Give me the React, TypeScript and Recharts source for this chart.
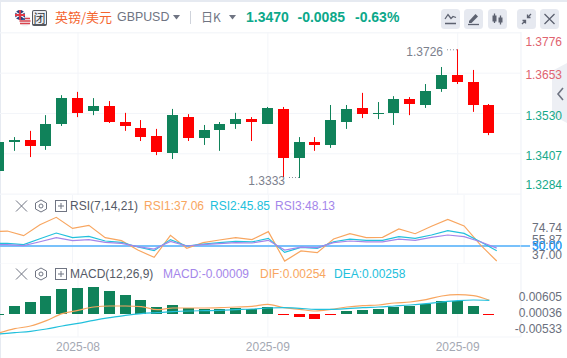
import { Bar, CartesianGrid, ComposedChart, Line, ReferenceLine, XAxis, YAxis } from "recharts";

// daily GBPUSD candles
const opens = [1.3355, 1.3444, 1.3449, 1.3431, 1.3498, 1.3577, 1.3538, 1.3553, 1.3504, 1.3486, 1.3461, 1.341, 1.3519, 1.3455, 1.348, 1.3498, 1.3513, 1.3498, 1.3544, 1.3394, 1.3443, 1.3434, 1.3504, 1.3547, 1.3528, 1.3532, 1.3574, 1.3556, 1.3605, 1.3647, 1.3626, 1.3556];
const closes = [1.3443, 1.3449, 1.3431, 1.3498, 1.3577, 1.3532, 1.3553, 1.3504, 1.3492, 1.3458, 1.3413, 1.3525, 1.3455, 1.348, 1.3498, 1.3513, 1.3504, 1.3547, 1.3394, 1.3443, 1.3434, 1.351, 1.3544, 1.3528, 1.3532, 1.3574, 1.3559, 1.3599, 1.3647, 1.3626, 1.3556, 1.347];
const highs = [1.3443, 1.3458, 1.3477, 1.3525, 1.3586, 1.3596, 1.3577, 1.3568, 1.3532, 1.351, 1.3483, 1.3544, 1.3528, 1.3495, 1.3504, 1.3532, 1.3519, 1.355, 1.355, 1.3458, 1.3458, 1.3556, 1.3556, 1.3593, 1.3565, 1.3583, 1.358, 1.362, 1.3672, 1.3726, 1.3663, 1.3559];
const lows = [1.3355, 1.3416, 1.3397, 1.3419, 1.3492, 1.3519, 1.3525, 1.3501, 1.3477, 1.3446, 1.3403, 1.3391, 1.3446, 1.3434, 1.3416, 1.3483, 1.3446, 1.3498, 1.3336, 1.3333, 1.3416, 1.3425, 1.3483, 1.3516, 1.3513, 1.3495, 1.3525, 1.3547, 1.3596, 1.362, 1.3535, 1.3464];

const rsi1 = [62.4, 62.9, 58.9, 68.4, 74.74, 65.2, 67.8, 57.2, 54.6, 46.5, 40.2, 59.2, 48.0, 52.9, 55.2, 57.2, 55.5, 62.4, 37.0, 45.7, 44.2, 56.0, 60.6, 57.2, 57.5, 64.7, 60.6, 67.0, 73.0, 67.3, 50.9, 37.06];
const rsi2 = [52.3, 52.3, 51.2, 56.3, 61.2, 57.2, 58.3, 54.3, 53.2, 49.1, 46.0, 55.5, 50.0, 51.7, 52.9, 54.0, 53.5, 56.6, 44.5, 48.8, 48.0, 53.7, 56.0, 54.9, 54.9, 58.1, 56.6, 59.5, 63.2, 60.9, 53.7, 45.85];
const rsi3 = [51.2, 51.2, 50.3, 53.7, 57.2, 54.6, 55.5, 53.2, 52.3, 49.4, 47.4, 54.0, 50.0, 51.2, 52.0, 52.9, 52.6, 54.9, 46.5, 49.1, 48.6, 52.9, 54.3, 53.5, 53.5, 56.0, 54.9, 57.5, 59.5, 58.1, 53.7, 48.13];

const macdBars = [0.00009, 0.00281, 0.00421, 0.00632, 0.00877, 0.00912, 0.00947, 0.00807, 0.00667, 0.00491, 0.00246, 0.00316, 0.00211, 0.00175, 0.00175, 0.00211, 0.00175, 0.00246, -0.00009, -0.00105, -0.00175, -0.00009, 0.00105, 0.0014, 0.00175, 0.00246, 0.00281, 0.00339, 0.00456, 0.00445, 0.00281, -0.00009];
const dif = [-0.00667, -0.00515, -0.00421, -0.00234, 0.00012, 0.00129, 0.00246, 0.00281, 0.00281, 0.00257, 0.00152, 0.00211, 0.00211, 0.00211, 0.00222, 0.00246, 0.00269, 0.00339, 0.00222, 0.00164, 0.00105, 0.00164, 0.00246, 0.00293, 0.00316, 0.00386, 0.00421, 0.00503, 0.00632, 0.00679, 0.00644, 0.0048];
const dea = [-0.00702, -0.00655, -0.00608, -0.00527, -0.00421, -0.00328, -0.00222, -0.00129, -0.00047, 0.00012, 0.00047, 0.00082, 0.00105, 0.00117, 0.00129, 0.00152, 0.00175, 0.00211, 0.00222, 0.00199, 0.00164, 0.00164, 0.00187, 0.00222, 0.00246, 0.00281, 0.00316, 0.00363, 0.00421, 0.00468, 0.00491, 0.0048];

const monthTicks = [5, 17, 29];
const monthLabels = ["2025-08", "2025-09", "2025-09"];
const priceTicks = [1.3776, 1.3653, 1.353, 1.3407, 1.3284];
const priceShifts = [9, 2, 2.5, 2.5, -9.5];
const rsiTicks = [74.74, 55.87, 37, 50];
const rsiShifts = [11, 0.5, -6, 0];
const macdTicks = [0.00605, 0.00036, -0.00533];

const GREEN = "#10825a";
const RED = "#ff0000";
const GRID = "#f3f5f9";
const ORANGE = "#f8a660";
const CYAN = "#22c0dc";
const PURPLE = "#a486ea";
const BLUE = "#78c1fb";
const AXIS_TEXT = "#6a6f7d";
const FONT = "'Liberation Sans', Arial, sans-serif";
const CJK = "'Noto Sans CJK SC', sans-serif";

// one extra empty slot on the right
const rows = [...opens.map((_, i) => i), 32].map((i) => ({
  i,
  open: opens[i],
  close: closes[i],
  high: highs[i],
  low: lows[i],
  range: opens[i] === undefined ? undefined : [lows[i], highs[i]],
  rsi1: rsi1[i],
  rsi2: rsi2[i],
  rsi3: rsi3[i],
  macd: macdBars[i],
  dif: dif[i],
  dea: dea[i],
}));

const CHART_LEFT = -9.04;
const CHART_WIDTH = 576.04;
const AXIS_WIDTH = 46;
const BAND_PAD = 7.98;

const Candle = (props: any) => {
  const { x, y, width, height, payload } = props;
  if (!payload || payload.high === undefined) return null;
  const { open, close, high, low } = payload;
  const unit = Math.abs(height) / (high - low);
  const top = y + (high - Math.max(open, close)) * unit;
  const bottom = y + (high - Math.min(open, close)) * unit;
  const cx = x + width / 2;
  const color = close >= open ? GREEN : RED;
  const wickX = Math.floor(cx);
  const bodyX = wickX - 5;
  const isMax = high === Math.max(...highs);
  const isMin = low === Math.min(...lows);
  return (
    <g>
      <rect x={wickX} y={y} width={1} height={Math.abs(height)} fill={color} />
      <rect x={bodyX} y={Math.round(top)} width={11} height={Math.max(1, Math.round(bottom) - Math.round(top))} fill={color} />
      {isMax && (
        <g>
          <line x1={wickX - 10} x2={wickX} y1={y + 0.5} y2={y + 0.5} stroke="#8a8f9c" strokeDasharray="1 2" />
          <text x={wickX - 14} y={y + 7} textAnchor="end" fontSize={12} fontFamily={FONT} fill="#7b808d">{high.toFixed(4)}</text>
        </g>
      )}
      {isMin && (
        <g>
          <line x1={wickX - 10} x2={wickX} y1={y + height - 0.5} y2={y + height - 0.5} stroke="#8a8f9c" strokeDasharray="1 2" />
          <text x={wickX - 14} y={y + height + 7} textAnchor="end" fontSize={12} fontFamily={FONT} fill="#7b808d">{low.toFixed(4)}</text>
        </g>
      )}
    </g>
  );
};

const MacdBar = (props: any) => {
  const { x, y, width, height, payload } = props;
  if (!payload || payload.macd === undefined) return null;
  const left = Math.floor(x + width / 2) - 5;
  const top = Math.round(Math.min(y, y + height));
  return <rect x={left} y={top} width={11} height={Math.max(1, Math.round(Math.abs(height)))} fill={payload.macd >= 0 ? GREEN : RED} />;
};

const PriceTick = ({ x, y, payload, index }: any) => (
  <text x={x + 41} y={y + priceShifts[index] + 4} textAnchor="end" fontSize={12} fontFamily={FONT} fill={index < 2 ? "#e0636f" : "#16a98a"}>
    {payload.value.toFixed(4)}
  </text>
);

const RsiTick = ({ x, y, payload, index }: any) => {
  const isMid = payload.value === 50;
  return (
    <g>
      {isMid && <line x1={x} x2={x + 9} y1={y} y2={y} stroke={BLUE} strokeWidth={2} />}
      {isMid && (
        <text x={x + 41} y={y + 4} textAnchor="end" fontSize={12} fontFamily={FONT} fill="#2f9cf4">30.00</text>
      )}
      <text x={x + 41} y={y + rsiShifts[index] + 4} textAnchor="end" fontSize={12} fontFamily={FONT} fill={isMid ? "#2f9cf4" : AXIS_TEXT}>
        {payload.value.toFixed(2)}
      </text>
    </g>
  );
};

const MacdTick = ({ x, y, payload }: any) => (
  <text x={x + 41} y={y + 4} textAnchor="end" fontSize={12} fontFamily={FONT} fill={AXIS_TEXT}>
    {payload.value.toFixed(5)}
  </text>
);

const MonthTick = ({ x, y, index }: any) => (
  <text x={x} y={y + 12} textAnchor="middle" fontSize={12} fontFamily={FONT} fill="#a4a8b3">
    {monthLabels[index]}
  </text>
);

const pane = (top: number): React.CSSProperties => ({ position: "absolute", left: CHART_LEFT, top });

const text = (left: number, top: number, color: string, size = 12): React.CSSProperties => ({
  position: "absolute",
  left,
  top,
  color,
  fontSize: size,
  lineHeight: "16px",
  fontFamily: FONT,
  whiteSpace: "nowrap",
});

const PaneIcons = ({ top }: { top: number }) => (
  <svg style={{ position: "absolute", left: 14, top, width: 56, height: 14 }} viewBox="0 0 56 14" fill="none" stroke="#6f7482">
    <path d="M2 1.5 L13 12.5 M13 1.5 L2 12.5" />
    <path d="M27 1 L32.5 4 V10 L27 13 L21.5 10 V4 Z" />
    <circle cx="27" cy="7" r="2" />
    <rect x="41.5" y="1.5" width="11" height="11" />
    <path d="M44 7 H50 M47 4 V10" />
  </svg>
);

const HeadButton = ({ left, children }: { left: number; children: React.ReactNode }) => (
  <svg style={{ position: "absolute", left, top: 9, width: 19, height: 20 }} viewBox="0 0 19 20">
    <rect width="19" height="20" rx="3.5" fill="#e6e9f0" />
    {children}
  </svg>
);

const glyph = { fill: "none", stroke: "#5d6270", strokeWidth: 1.3 };

export default function App() {
  return (
    <div style={{ position: "absolute", left: 0, top: 0, width: 567, height: 358, overflow: "hidden", background: "#fff" }}>
      <div style={{ position: "absolute", left: 0, top: 0, width: 567, height: 2, background: "#e6eaf1" }} />
      <div style={{ position: "absolute", left: 0, top: 0, width: 1, height: 358, background: "#e6eaf1" }} />

      <svg style={{ position: "absolute", left: 14, top: 10, width: 17, height: 17 }} viewBox="0 0 17 17">
        <circle cx="11" cy="11" r="5.5" fill="#f3f3f6" />
        <path d="M6 8.5 H16 M5.5 11 H16.5 M6 13.5 H16" stroke="#d9434e" strokeWidth="1.3" />
        <rect x="6" y="6" width="5" height="4" fill="#3c5a9a" />
        <circle cx="6" cy="5" r="5" fill="#2d3f7c" />
        <path d="M1.5 2 L10.5 8 M10.5 2 L1.5 8" stroke="#fff" strokeWidth="1.1" />
        <path d="M6 0 V10 M1 5 H11" stroke="#e03a45" strokeWidth="1.8" />
      </svg>
      <div style={{ position: "absolute", left: 32, top: 10, width: 15, height: 16, boxSizing: "border-box", border: "1px solid #55585f", borderBottomWidth: 2, borderRadius: 2, background: "#eceef2", color: "#33363d", fontSize: 12, lineHeight: "13px", textAlign: "center", fontFamily: CJK }}>闭</div>
      <div style={{ ...text(55, 9, "#f4652f", 13), fontFamily: CJK }}>英镑/美元</div>
      <div style={text(117, 9, "#6f7482", 12.4)}>GBPUSD</div>
      <svg style={{ position: "absolute", left: 173, top: 15, width: 8, height: 5 }}><path d="M0 0 H7 L3.5 4.5 Z" fill="#6f7482" /></svg>
      <div style={{ position: "absolute", left: 190, top: 11, width: 1, height: 13, background: "#cfd3db" }} />
      <div style={{ ...text(201, 9, "#6f7482", 12), fontFamily: CJK }}>日K</div>
      <svg style={{ position: "absolute", left: 229, top: 15, width: 8, height: 5 }}><path d="M0 0 H7 L3.5 4.5 Z" fill="#6f7482" /></svg>
      <div style={{ ...text(246, 9, "#0ca88a", 14), fontWeight: 700 }}>1.3470</div>
      <div style={{ ...text(297.5, 9, "#0ca88a", 14), fontWeight: 700 }}>-0.0085</div>
      <div style={{ ...text(355, 9, "#0ca88a", 14), fontWeight: 700 }}>-0.63%</div>

      <HeadButton left={441}>
        <path d="M4 10 L7 5.5 L10 9.5 L12 7.5 L15 8.5 M4 14.5 H15" {...glyph} />
      </HeadButton>
      <HeadButton left={464}>
        <path d="M5 12 L11.5 5 L14 7.5 L7.5 14 H5 Z" fill="#5d6270" />
        <path d="M4 15.5 H15" {...glyph} />
      </HeadButton>
      <HeadButton left={488}>
        <path d="M6.5 4.5 V14 M12.5 6.5 V15.5" {...glyph} />
        <rect x="4.5" y="6.5" width="4" height="6" fill="#5d6270" />
        <rect x="10.5" y="8.5" width="4" height="5" fill="#5d6270" />
      </HeadButton>
      <HeadButton left={517}>
        <path d="M14 5 L10.5 8.5 M10.5 5.5 V8.5 H13.5 M5 15 L8.5 11.5 M8.5 14.5 V11.5 H5.5" {...glyph} />
      </HeadButton>
      <HeadButton left={540}>
        <path d="M4.5 5 L14.5 15 M14.5 5 L4.5 15" {...glyph} />
      </HeadButton>

      <svg style={{ position: "absolute", left: 552, top: 63, width: 15, height: 60 }} viewBox="0 0 15 60">
        <path d="M15 0 L0 8 V52 L15 60 Z" fill="#edeff4" />
        <path d="M11 25 L6 31 L11 37" fill="none" stroke="#6f7482" strokeWidth="1.6" />
      </svg>

      <div style={pane(32)}>
        <ComposedChart width={CHART_WIDTH} height={163} data={rows} margin={{ top: 0, right: 0, bottom: 0, left: 0 }}>
          <CartesianGrid stroke={GRID} />
          <XAxis dataKey="i" type="category" hide ticks={monthTicks} padding={{ left: 0, right: BAND_PAD }} />
          <YAxis orientation="right" width={AXIS_WIDTH} domain={[1.32812, 1.37788]} ticks={priceTicks} interval={0} allowDataOverflow stroke={GRID} tickLine={false} tickSize={0} tickMargin={0} tick={PriceTick} />
          <Bar dataKey="range" barSize={11} shape={Candle} isAnimationActive={false} />
        </ComposedChart>
      </div>

      <div style={pane(195)}>
        <ComposedChart width={CHART_WIDTH} height={68} data={rows} margin={{ top: 0, right: 0, bottom: 0, left: 0 }}>
          <CartesianGrid stroke={GRID} horizontal={false} />
          <XAxis dataKey="i" type="category" hide ticks={monthTicks} padding={{ left: 0, right: BAND_PAD }} />
          <YAxis orientation="right" width={AXIS_WIDTH} domain={[35.33, 94]} ticks={rsiTicks} interval={0} allowDataOverflow stroke={GRID} tickLine={false} tickSize={0} tickMargin={0} tick={RsiTick} />
          <ReferenceLine y={50} stroke={BLUE} strokeWidth={2} />
          <Line dataKey="rsi1" stroke={ORANGE} strokeWidth={1.2} dot={false} isAnimationActive={false} />
          <Line dataKey="rsi2" stroke={CYAN} strokeWidth={1.2} dot={false} isAnimationActive={false} />
          <Line dataKey="rsi3" stroke={PURPLE} strokeWidth={1.2} dot={false} isAnimationActive={false} />
        </ComposedChart>
      </div>

      <div style={pane(263)}>
        <ComposedChart width={CHART_WIDTH} height={95} data={rows} margin={{ top: 0, right: 0, bottom: 0, left: 0 }}>
          <CartesianGrid stroke={GRID} horizontal={false} />
          <XAxis dataKey="i" type="category" height={21} ticks={monthTicks} interval={0} padding={{ left: 0, right: BAND_PAD }} tickLine={false} tickSize={0} stroke={GRID} tick={MonthTick} />
          <YAxis orientation="right" width={AXIS_WIDTH} domain={[-0.00807, 0.01789]} ticks={macdTicks} interval={0} allowDataOverflow stroke={GRID} tickLine={false} tickSize={0} tickMargin={0} tick={MacdTick} />
          <ReferenceLine y={0.01789} stroke={GRID} />
          <Bar dataKey="macd" barSize={11} shape={MacdBar} isAnimationActive={false} />
          <Line dataKey="dif" type="monotone" stroke={ORANGE} strokeWidth={1.2} dot={false} isAnimationActive={false} />
          <Line dataKey="dea" type="monotone" stroke={CYAN} strokeWidth={1.2} dot={false} isAnimationActive={false} />
        </ComposedChart>
      </div>

      <PaneIcons top={199} />
      <div style={text(70, 198, "#555a66")}>RSI(7,14,21)</div>
      <div style={text(144, 198, ORANGE)}>RSI1:37.06</div>
      <div style={text(210, 198, CYAN)}>RSI2:45.85</div>
      <div style={text(275, 198, PURPLE)}>RSI3:48.13</div>

      <PaneIcons top={267} />
      <div style={text(70, 266, "#555a66")}>MACD(12,26,9)</div>
      <div style={text(163, 266, PURPLE)}>MACD:-0.00009</div>
      <div style={text(260, 266, ORANGE)}>DIF:0.00254</div>
      <div style={text(334, 266, CYAN)}>DEA:0.00258</div>
    </div>
  );
}
